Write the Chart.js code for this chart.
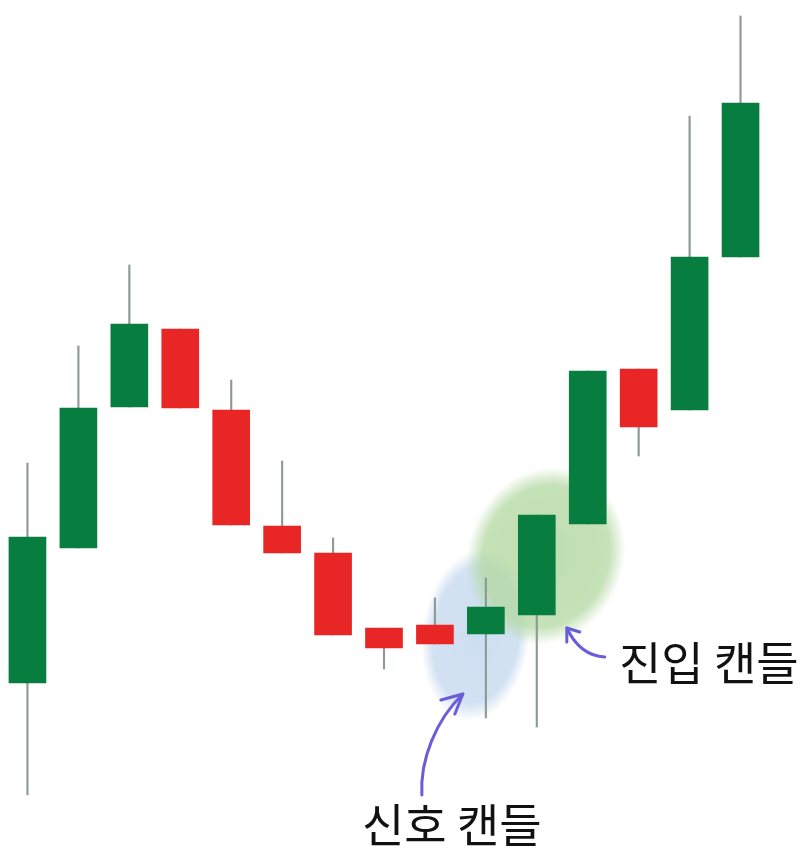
<!DOCTYPE html>
<html>
<head>
<meta charset="utf-8">
<script src="https://cdn.jsdelivr.net/npm/chart.js@4.4.0/dist/chart.umd.min.js"></script>
<style>
html, body { margin: 0; padding: 0; background: #fff; }
#wrap { position: relative; width: 811px; height: 850px; }
.label { position: absolute; font-family: "Noto Sans CJK KR"; font-size: 46px; color: #111; line-height: 1; white-space: nowrap; }
</style>
</head>
<body>
<div id="wrap">
    <canvas id="candle_chart"></canvas>
    <div class="label" id="signal_label" style="left:362px; top:799px;">신호 캔들</div>
    <div class="label" id="entry_label" style="left:619px; top:637px;">진입 캔들</div>
</div>
<script>
// candle data (price units)
const labels   = ['1','2','3','4','5','6','7','8','9','10','11','12','13','14','15'];
const openArr  = [167, 302, 443, 521, 440, 324, 297, 222, 225, 216, 235, 326, 481, 440, 593];
const closeArr = [313, 442, 526, 442, 325, 297, 215, 202, 206, 243, 335, 479, 423, 593, 747];
const highArr  = [387, 504, 585, 521, 470, 389, 312, 222, 252, 272, 335, 479, 481, 734, 834];
const lowArr   = [ 55, 302, 443, 442, 325, 297, 215, 181, 206, 132, 123, 326, 394, 440, 593];

const signalIdx = 9;   // 신호 캔들
const entryIdx = 10;   // 진입 캔들

const GREEN = '#087d40';
const RED = '#e92626';

let bodies = [];
let wicks = [];
let colors = [];
for (let i = 0; i < labels.length; i++) {
    bodies.push([openArr[i], closeArr[i]]);
    wicks.push([lowArr[i], highArr[i]]);
    colors.push(closeArr[i] >= openArr[i] ? GREEN : RED);
}

function blob(ctx, x, y, rx, ry, rot, rgb) {
    ctx.save();
    ctx.translate(x, y);
    ctx.rotate(rot);
    ctx.scale(1, ry / rx);
    let g = ctx.createRadialGradient(0, 0, 0, 0, 0, rx);
    g.addColorStop(0, 'rgba(' + rgb + ',0.85)');
    g.addColorStop(0.8, 'rgba(' + rgb + ',0.75)');
    g.addColorStop(1, 'rgba(' + rgb + ',0)');
    ctx.fillStyle = g;
    ctx.beginPath();
    ctx.arc(0, 0, rx, 0, Math.PI * 2);
    ctx.fill();
    ctx.restore();
}

const highlightPlugin = {
    id: 'highlight',
    beforeDatasetsDraw(chart) {
        let ctx = chart.ctx;
        let xs = chart.scales.x, ys = chart.scales.y;
        let sx = xs.getPixelForValue(signalIdx);
        let ex = xs.getPixelForValue(entryIdx);
        blob(ctx, sx - 10, ys.getPixelForValue(215), 54, 86, 0.12, '196,216,238');
        blob(ctx, ex + 9, ys.getPixelForValue(294), 78, 90, 0.35, '178,216,160');
    },
    afterDatasetsDraw(chart) {
        let ctx = chart.ctx;
        let xs = chart.scales.x;
        let sx = xs.getPixelForValue(signalIdx);
        let ex = xs.getPixelForValue(entryIdx);
        ctx.save();
        ctx.strokeStyle = '#6a5ed8';
        ctx.lineWidth = 3;
        ctx.lineCap = 'round';
        ctx.lineJoin = 'round';
        // arrow to signal candle
        ctx.beginPath();
        ctx.moveTo(sx - 64, 795);
        ctx.bezierCurveTo(sx - 66, 760, sx - 50, 720, sx - 23, 694);
        ctx.stroke();
        ctx.beginPath();
        ctx.moveTo(sx - 45, 700);
        ctx.lineTo(sx - 23, 694);
        ctx.lineTo(sx - 31, 714);
        ctx.stroke();
        // arrow to entry candle
        ctx.beginPath();
        ctx.moveTo(ex + 68, 657);
        ctx.bezierCurveTo(ex + 50, 656, ex + 38, 645, ex + 30, 628);
        ctx.stroke();
        ctx.beginPath();
        ctx.moveTo(ex + 43, 632);
        ctx.lineTo(ex + 30, 628);
        ctx.lineTo(ex + 30, 642);
        ctx.stroke();
        ctx.restore();
    }
};

let ctx = document.getElementById('candle_chart');
let candleChart = new Chart(ctx, {
    type: 'bar',
    data: {
        labels: labels,
        datasets: [{
                label: 'body',
                data: bodies,
                backgroundColor: colors,
                barThickness: 37,
                order: 1
            }, {
                label: 'wick',
                data: wicks,
                backgroundColor: '#8e9b94',
                barThickness: 1.5,
                order: 2
            }
        ]
    },
    options: {
        responsive: true,
        maintainAspectRatio: false,
        animation: false,
        layout: { padding: { left: 2, right: 45, top: 0, bottom: 0 } },
        plugins: {
            legend: { display: false },
            tooltip: { enabled: false }
        },
        scales: {
            x: { display: false },
            y: { display: false, min: 0, max: 850 }
        },
        datasets: { bar: { grouped: false } }
    },
    plugins: [highlightPlugin]
});
</script>
</body>
</html>
